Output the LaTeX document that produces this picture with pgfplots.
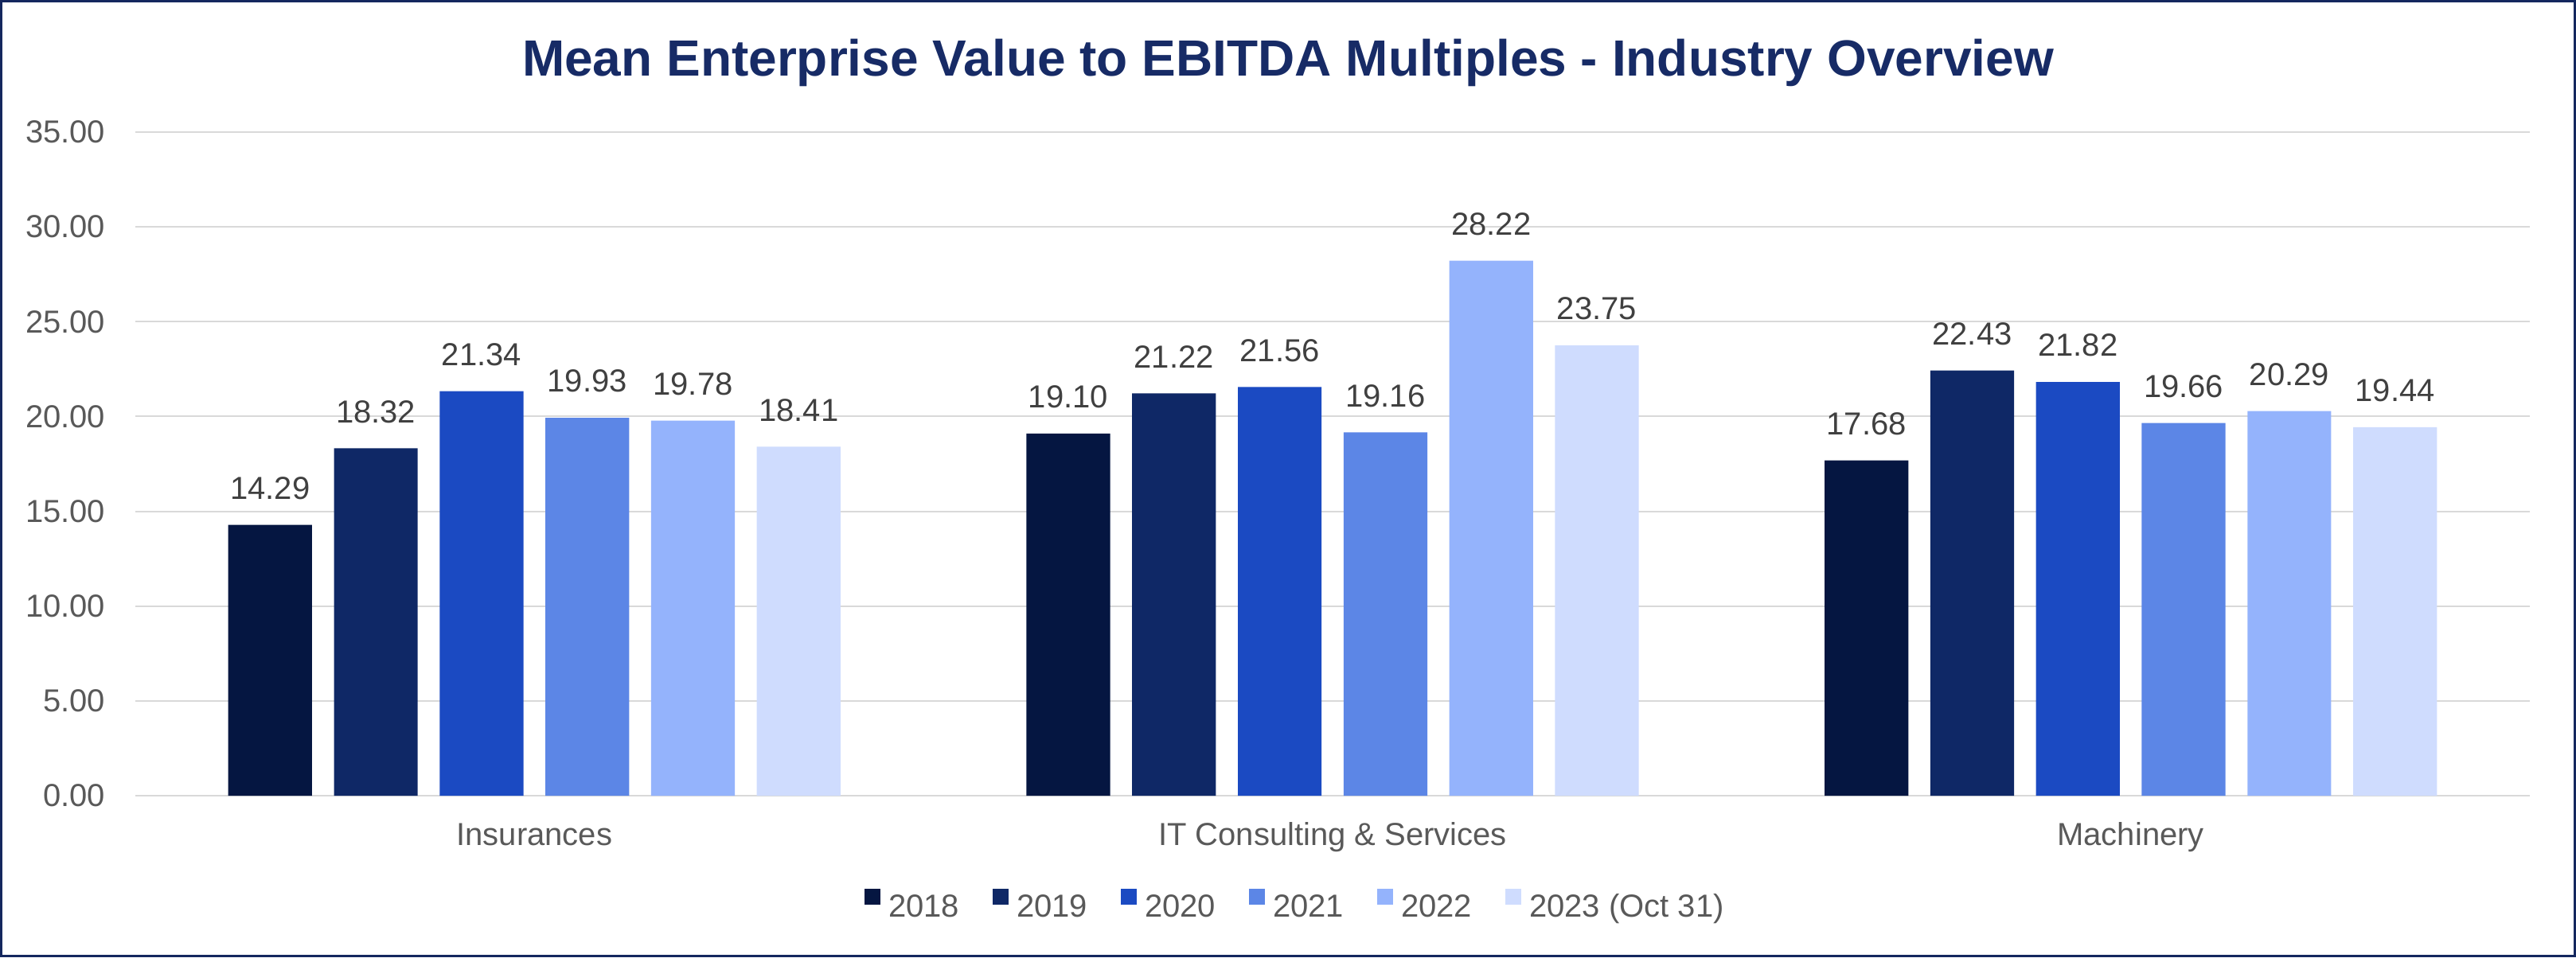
\documentclass[border=0pt]{standalone}
\usepackage{pgfplots}
\pgfplotsset{compat=1.18}
\usepackage{fontspec}
\setmainfont{Liberation Sans}
\definecolor{frame}{HTML}{14275E}
\definecolor{titlec}{HTML}{172B66}
\definecolor{cA}{HTML}{051641}
\definecolor{cB}{HTML}{0F2866}
\definecolor{cC}{HTML}{1B4AC2}
\definecolor{cD}{HTML}{5C86E6}
\definecolor{cE}{HTML}{94B3FC}
\definecolor{cF}{HTML}{CFDCFE}
\definecolor{tickc}{HTML}{595959}
\definecolor{labc}{HTML}{404040}
\definecolor{gridc}{HTML}{D9D9D9}
\begin{document}
\begin{tikzpicture}
\useasboundingbox (0,0) rectangle (809pt,300.75pt);
\begin{axis}[
  at={(42.5pt,50.75pt)}, anchor=south west,
  scale only axis, width=752pt, height=208.5pt,
  ybar=6.9pt, bar width=26.3pt,
  xmin=-0.5, xmax=2.5, ymin=0, ymax=35,
  xtick={0,1,2},
  xticklabels={Insurances, IT Consulting \& Services, Machinery},
  ytick={0,5,...,35},
  axis line style={draw=none},
  major tick length=0pt,
  ymajorgrids, grid style={gridc, line width=0.5pt},
  /pgf/number format/assume math mode=true,
  yticklabel style={/pgf/number format/.cd, fixed, fixed zerofill, precision=2, /tikz/.cd, anchor=east, inner sep=0pt, xshift=-9.25pt, font=\fontsize{10}{12}\selectfont, text=tickc},
  xticklabel style={anchor=base, inner sep=0pt, yshift=-15.5pt, font=\fontsize{10}{12}\selectfont, text=tickc},
  nodes near coords,
  every node near coord/.append style={/pgf/number format/.cd, fixed, fixed zerofill, precision=2, /tikz/.cd, anchor=south, inner sep=0pt, yshift=7.75pt, font=\fontsize{10}{12}\selectfont, text=labc},
  legend columns=6,
  legend style={at={(0.5,-0.1655)}, anchor=center, xshift=-12pt, draw=none, fill=none, font=\fontsize{10}{12}\selectfont, text=tickc,
    nodes={inner sep=0pt}, /tikz/every even column/.append style={column sep=10.5pt}},
  legend image code/.code={\fill[#1,draw=none] (0pt,0.9pt) rectangle (5pt,5.9pt); \path (7.5pt,0pt);},
]
\addplot[fill=cA, draw=none] coordinates {(0,14.29) (1,19.10) (2,17.68)};
\addplot[fill=cB, draw=none] coordinates {(0,18.32) (1,21.22) (2,22.43)};
\addplot[fill=cC, draw=none] coordinates {(0,21.34) (1,21.56) (2,21.82)};
\addplot[fill=cD, draw=none] coordinates {(0,19.93) (1,19.16) (2,19.66)};
\addplot[fill=cE, draw=none] coordinates {(0,19.78) (1,28.22) (2,20.29)};
\addplot[fill=cF, draw=none] coordinates {(0,18.41) (1,23.75) (2,19.44)};
\legend{2018,2019,2020,2021,2022,2023 (Oct 31)}
\end{axis}
\node[anchor=base, inner sep=0pt, text=titlec, font=\fontsize{16}{19}\selectfont\bfseries] at (404.5pt,276.75pt) {Mean Enterprise Value to EBITDA Multiples - Industry Overview};
\draw[frame, line width=0.75pt] (0.375pt,0.375pt) rectangle (808.625pt,300.375pt);
\end{tikzpicture}
\end{document}
